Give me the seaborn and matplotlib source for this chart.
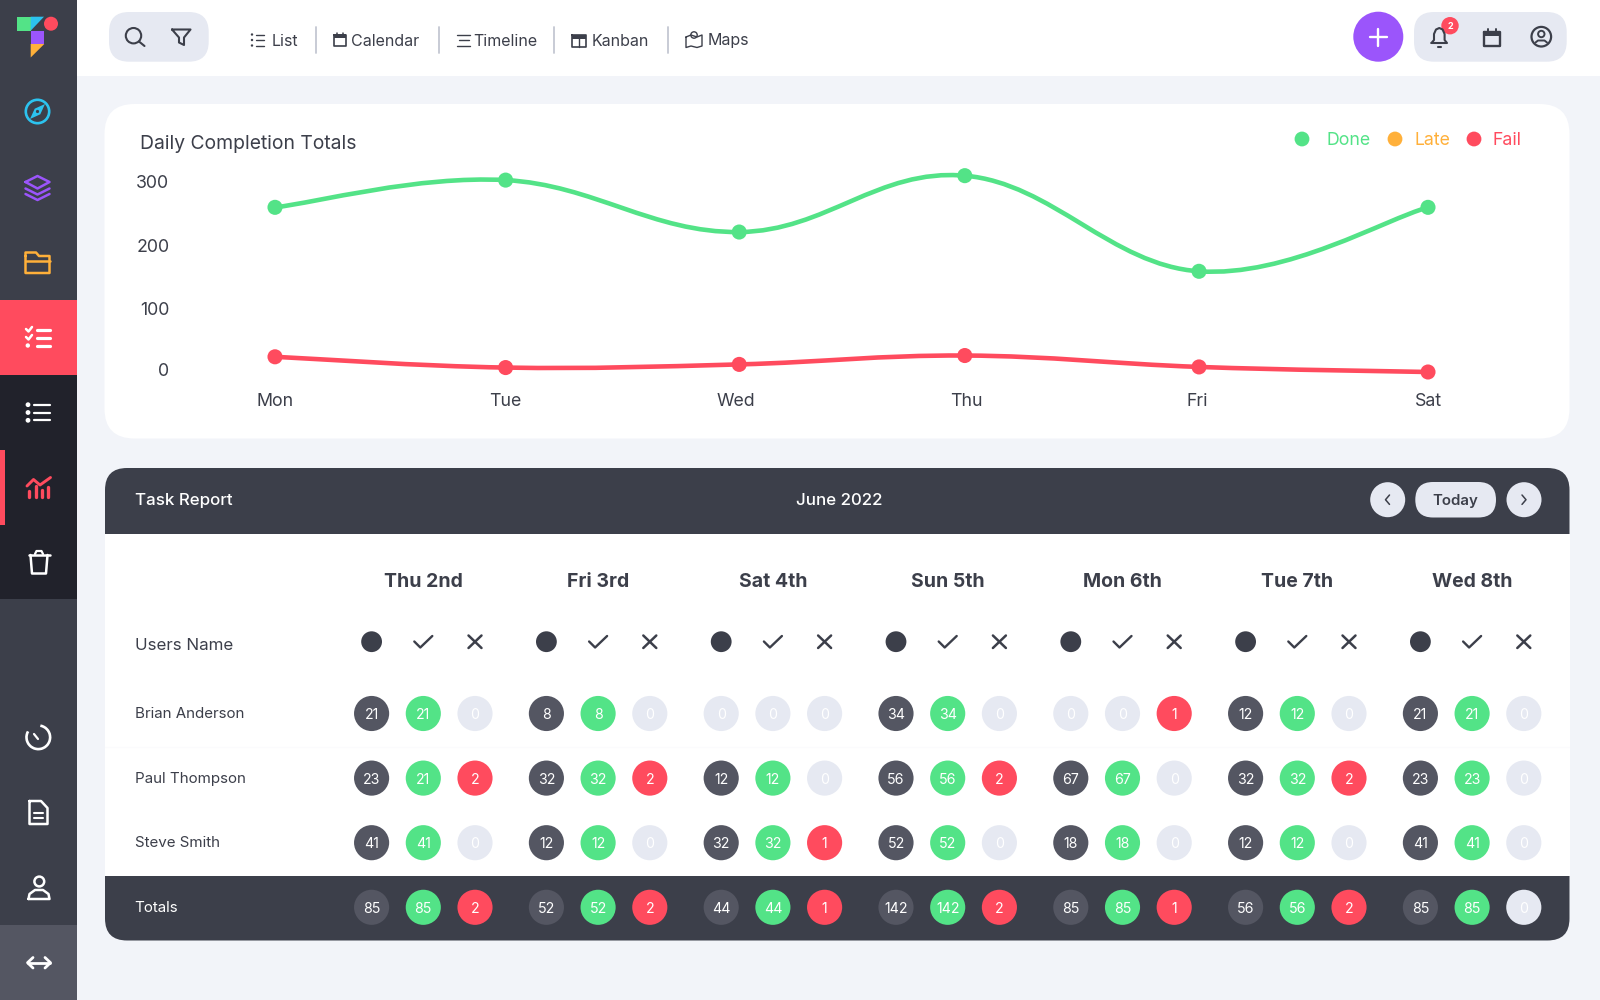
import matplotlib
matplotlib.use("Agg")
import matplotlib.pyplot as plt
from matplotlib.patches import Circle, FancyBboxPatch, PathPatch, Polygon, Rectangle, Arc
from matplotlib.path import Path
from matplotlib.transforms import Affine2D
import seaborn as sns
import pandas as pd

# Chart data
week_days = ["Mon", "Tue", "Wed", "Thu", "Fri", "Sat"]
done_totals = [260, 303, 221, 310, 159, 260]
fail_totals = [24, 7, 12, 26, 8, 0]
y_ticks = [0, 100, 200, 300]

# Table data
report_days = ["Thu 2nd", "Fri 3rd", "Sat 4th", "Sun 5th", "Mon 6th", "Tue 7th", "Wed 8th"]
user_names = ["Brian Anderson", "Paul Thompson", "Steve Smith", "Totals"]
brian_all = [21, 8, 0, 34, 0, 12, 21]
brian_done = [21, 8, 0, 34, 0, 12, 21]
brian_fail = [0, 0, 0, 0, 1, 0, 0]
paul_all = [23, 32, 12, 56, 67, 32, 23]
paul_done = [21, 32, 12, 56, 67, 32, 23]
paul_fail = [2, 2, 0, 2, 0, 2, 0]
steve_all = [41, 12, 32, 52, 18, 12, 41]
steve_done = [41, 12, 32, 52, 18, 12, 41]
steve_fail = [0, 0, 1, 0, 0, 0, 0]
total_all = [85, 52, 44, 142, 85, 56, 85]
total_done = [85, 52, 44, 142, 85, 56, 85]
total_fail = [2, 2, 1, 2, 1, 2, 0]

DARK = "#3c3f4a"
SLATE = "#545662"
GREEN = "#53e387"
RED = "#ff4b5e"
ORANGE = "#ffb03a"
PURPLE = "#9b55fb"
CYAN = "#2cc3ef"
PILL = "#e6e9f2"
BG = "#f2f4f9"
NIGHT = "#21222b"
FONT = "Inter"

sns.set_theme(style="white")
plt.rcParams["font.family"] = [FONT, "DejaVu Sans"]

fig = plt.figure(figsize=(16, 10), dpi=100, facecolor=BG)

# Background axes in pixels, everything that is not data goes here
ui = fig.add_axes([0, 0, 1, 1], zorder=0)
ui.set_xlim(0, 1600)
ui.set_ylim(1000, 0)
ui.axis("off")


def rect(x0, y0, x1, y1, color, **kw):
    ui.add_patch(Rectangle((x0, y0), x1 - x0, y1 - y0, fc=color, ec="none", **kw))


def rrect(x0, y0, x1, y1, r, color):
    ui.add_patch(FancyBboxPatch((x0 + r, y0 + r), x1 - x0 - 2 * r, y1 - y0 - 2 * r,
                                boxstyle=f"round,pad={r},rounding_size={r}", fc=color, ec="none"))


def line(pts, color, lw=1.6, closed=False):
    xs = [p[0] for p in pts]
    ys = [p[1] for p in pts]
    if closed:
        xs.append(xs[0])
        ys.append(ys[0])
    ui.plot(xs, ys, color=color, lw=lw, solid_capstyle="round", solid_joinstyle="round")


def ring(x, y, r, color, lw=1.6):
    ui.add_patch(Circle((x, y), r, fc="none", ec=color, lw=lw))


def dot(x, y, r, color):
    ui.add_patch(Circle((x, y), r, fc=color, ec="none"))


def label(x, y, s, size=11, color=DARK, ha="left", weight="normal"):
    ui.text(x, y, s, fontsize=size, color=color, ha=ha, va="center_baseline", fontweight=weight)


# Sidebar blocks
rect(0, 0, 77, 1000, DARK)
rect(0, 300, 77, 375, RED)
rect(0, 375, 77, 599, NIGHT)
rect(0, 450, 5, 525, RED)
rect(0, 925, 77, 1000, SLATE)
rect(77, 0, 1600, 76, "white")

# Logo
rect(17, 16.7, 30.7, 30.7, GREEN)
ui.add_patch(Polygon([(30.7, 16.7), (44, 16.7), (30.7, 30.7)], fc=CYAN, ec="none"))
dot(51, 23.7, 7, RED)
rect(30.7, 30.7, 44.3, 44, PURPLE)
ui.add_patch(Polygon([(30.7, 44), (44.3, 44), (30.7, 57.5)], fc=ORANGE, ec="none"))

# Sidebar icons
ring(37.5, 111.5, 11.7, CYAN, 1.9)
ui.add_patch(Polygon([(45, 104), (40.3, 114.3), (30, 119), (34.7, 108.7)], fc=CYAN, ec="none"))
dot(37.5, 111.5, 1.6, DARK)

line([(25.5, 182), (37.5, 176), (49.5, 182), (37.5, 188.5)], PURPLE, 1.8, closed=True)
line([(25.5, 188.5), (37.5, 194.5), (49.5, 188.5)], PURPLE, 1.8)
line([(25.5, 194), (37.5, 200), (49.5, 194)], PURPLE, 1.8)

line([(25.5, 256), (25.5, 252.5), (36, 252.5), (39, 256), (49.5, 256), (49.5, 273), (25.5, 273)], ORANGE, 1.8, closed=True)
line([(25.5, 260.5), (49.5, 260.5)], ORANGE, 1.8)

for y in (329.5, 337.5, 345.5):
    line([(37, y), (49.5, y)], "white", 2.3)
line([(26, 329), (28.5, 331.5), (32, 327)], "white", 1.8)
line([(26, 337), (28.5, 339.5), (32, 335)], "white", 1.8)
dot(27.8, 345.5, 2.2, "white")

for y in (404.7, 412.5, 420.3):
    dot(28, y, 2.4, "white")
    line([(34, y), (49.5, y)], "white", 1.6)

line([(27, 486), (33.5, 479.5), (40, 485), (50.5, 477.5)], RED, 2.1)
for x, top in ((29, 491), (35.5, 486), (42, 490), (48, 487)):
    line([(x, top), (x, 497)], RED, 2.4)

line([(29, 555), (49.5, 555)], "white", 1.8)
line([(30.5, 555), (32, 573.5), (46, 573.5), (47.5, 555)], "white", 1.8)
line([(35, 554), (36.5, 551), (41.5, 551), (43, 554)], "white", 1.6)

ui.add_patch(Arc((38.3, 737.3), 23.6, 23.6, angle=0, theta1=-80, theta2=210, ec="white", lw=1.9))
line([(34, 734), (38, 739)], "white", 1.6)

line([(29.5, 801), (41, 801), (47.5, 808), (47.5, 824), (29.5, 824)], "white", 1.8, closed=True)
line([(34, 812.5), (43, 812.5)], "white", 1.5)
line([(34, 817.5), (43, 817.5)], "white", 1.5)

ring(39.3, 881.5, 4.9, "white", 1.8)
line([(28.5, 899), (49.5, 899), (48.5, 894), (43, 890), (35, 890), (29.5, 894)], "white", 1.8, closed=True)

line([(28, 962.7), (50, 962.7)], "white", 2.0)
line([(33, 957.5), (27.5, 962.7), (33, 968)], "white", 2.0)
line([(45, 957.5), (50.5, 962.7), (45, 968)], "white", 2.0)

# Top bar, left
rrect(109, 12, 208.7, 61.7, 20, PILL)
ring(133.5, 35.7, 7.7, DARK, 1.5)
line([(139, 41.5), (144.5, 46)], DARK, 1.5)
line([(172, 29.5), (190.5, 29.5), (184, 37.5), (184, 45), (179, 42.5), (179, 37.5)], DARK, 1.5, closed=True)

nav_items = [("List", 271.5), ("Calendar", 351.5), ("Timeline", 473.5), ("Kanban", 591.5), ("Maps", 708)]
for name, x in nav_items:
    label(x, 39.5, name, 11.5)
for x in (316, 439, 554, 667.7):
    line([(x, 27), (x, 53)], "#c4c7d2", 1.3)

for y in (34.5, 40, 45.5):
    dot(252, y, 1.2, DARK)
    line([(255.5, y), (263.5, y)], DARK, 1.0)
line([(334, 35), (346, 35), (346, 46), (334, 46)], DARK, 1.2, closed=True)
rect(334, 34, 346, 37.5, DARK)
line([(337, 33), (337, 35)], DARK, 1.1)
line([(343, 33), (343, 35)], DARK, 1.1)
line([(457, 34.5), (470, 34.5)], DARK, 1.0)
line([(459, 40), (469, 40)], DARK, 1.0)
line([(457, 45.5), (470, 45.5)], DARK, 1.0)
line([(572, 35), (586, 35), (586, 47), (572, 47)], DARK, 1.2, closed=True)
rect(572, 35, 586, 38.5, DARK)
line([(579, 36), (579, 47)], DARK, 1.0)
line([(686, 37), (691, 35), (697, 37), (702, 35), (702, 46), (697, 47.5), (691, 46), (686, 47.5)], DARK, 1.0, closed=True)
dot(694, 35, 3.2, "white")
ring(694, 35, 3.2, DARK, 1.0)

# Top bar, right
dot(1378.3, 36.7, 25, PURPLE)
line([(1370, 37), (1386.5, 37)], "white", 1.7)
line([(1378.3, 29), (1378.3, 45.5)], "white", 1.7)
rrect(1414, 12, 1566.7, 61.7, 20, PILL)
line([(1431.5, 43), (1434, 40), (1434, 34), (1436, 29.5), (1439.3, 28), (1442.6, 29.5), (1444.6, 34), (1444.6, 40), (1447, 43)],
     DARK, 1.5, closed=True)
line([(1438, 46.5), (1441, 46.5)], DARK, 1.5)
dot(1450, 25.7, 8.7, RED)
label(1450, 25.7, "2", 6.5, "white", ha="center", weight="bold")
line([(1484, 32), (1499.5, 32), (1499.5, 46), (1484, 46)], DARK, 1.7, closed=True)
rect(1484, 31, 1499.5, 36, DARK)
line([(1488, 28.5), (1488, 31)], DARK, 1.4)
line([(1495.5, 28.5), (1495.5, 31)], DARK, 1.4)
ring(1541.3, 36.7, 9.8, DARK, 1.6)
ring(1541.3, 34, 3.2, DARK, 1.4)
line([(1535.5, 42.5), (1538, 40.5), (1544.5, 40.5), (1547, 42.5)], DARK, 1.4)

# Panels
rrect(104.5, 104, 1569.5, 438.5, 30, "white")
rrect(105, 468, 1569.5, 940.5, 22, DARK)
rect(105, 533.5, 1569.5, 876, "white")
line([(105, 747), (1569, 747)], "#fbfbfd", 0.8)

# Chart heading and legend
label(140, 142, "Daily Completion Totals", 13.9)
for x, text_x, name, color in ((1302, 1327, "Done", GREEN), (1395, 1414, "Late", ORANGE), (1474, 1492, "Fail", RED)):
    dot(x, 139, 7.4, color)
    label(text_x, 138.5, name, 12.8, color)

# Line chart, placed so that its data lands on the panel
px_left, px_right = 245, 1458
px_top, px_bottom = 160, 388
per_day = (1428 - 275) / 5
per_unit = (372 - 182) / 300
chart = fig.add_axes([px_left / 1600, 1 - px_bottom / 1000, (px_right - px_left) / 1600, (px_bottom - px_top) / 1000],
                     zorder=1, facecolor="none")


def smooth_path(xs, ys, k=0.19):
    # cubic segments through the points, tangents from the neighbours
    verts = [(xs[0], ys[0])]
    codes = [Path.MOVETO]
    n = len(xs)
    for i in range(n - 1):
        prev_i, next_i = max(i - 1, 0), min(i + 2, n - 1)
        verts.append((xs[i] + (xs[i + 1] - xs[prev_i]) * k, ys[i] + (ys[i + 1] - ys[prev_i]) * k))
        verts.append((xs[i + 1] - (xs[next_i] - xs[i]) * k, ys[i + 1] - (ys[next_i] - ys[i]) * k))
        verts.append((xs[i + 1], ys[i + 1]))
        codes += [Path.CURVE4] * 3
    return Path(verts, codes)


# the points in the reference are not quite evenly spaced
day_nudge_px = [0, 0, 3, -2, 1.6, 0]
positions = list(range(len(week_days)))
marks = [p + n / per_day for p, n in zip(positions, day_nudge_px)]
for values, color in ((done_totals, GREEN), (fail_totals, RED)):
    chart.add_patch(PathPatch(smooth_path(marks, values), fc="none", ec=color, lw=3.3))

chart_df = pd.DataFrame({
    "day": marks * 2,
    "value": done_totals + fail_totals,
    "kind": ["Done"] * len(done_totals) + ["Fail"] * len(fail_totals),
})
sns.scatterplot(data=chart_df, x="day", y="value", hue="kind", palette={"Done": GREEN, "Fail": RED},
                s=118, linewidth=0, legend=False, ax=chart, zorder=3)

chart.set_xlim((px_left - 275) / per_day, (px_right - 275) / per_day)
chart.set_ylim((372 - px_bottom) / per_unit, (372 - px_top) / per_unit)
chart.set_xticks(positions, week_days)
chart.set_yticks(y_ticks, [str(v) for v in y_ticks])
chart.tick_params(axis="x", length=0, pad=3.6, labelsize=12.8, labelcolor=DARK)
chart.tick_params(axis="y", length=0, pad=54.5, labelsize=12.8, labelcolor=DARK)
chart.set_xlabel("")
chart.set_ylabel("")
sns.despine(ax=chart, left=True, bottom=True)
# the 0 label sits a little above its tick in the reference
zero_label = chart.get_yticklabels()[0]
zero_label.set_transform(zero_label.get_transform() + Affine2D().translate(0, 2))

# Table header
label(135, 499, "Task Report", 12.2, "white", weight="medium")
label(839, 499, "June 2022", 12.2, "white", ha="center", weight="medium")
dot(1387.7, 499.7, 17.5, PILL)
dot(1524, 499.7, 17.5, PILL)
rrect(1415.3, 482, 1496, 517.5, 17.7, PILL)
label(1455.7, 500, "Today", 10.8, DARK, ha="center", weight="semibold")
line([(1389.5, 495), (1385.5, 499.7), (1389.5, 504.4)], DARK, 1.1)
line([(1522, 495), (1526, 499.7), (1522, 504.4)], DARK, 1.1)
label(135, 644, "Users Name", 12.2)
for y, name, x in zip((713, 778, 842, 907), user_names, (135, 135, 135, 134)):
    label(x, y - 0.5, name, 10.9, "white" if name == "Totals" else DARK)

# Table cells
day_first, day_step = 423.3, 174.8
row_first, row_step = 713.5, 64.6
sub_step = 51.7 / day_step
tx0, tx1, ty0, ty1 = 105, 1569, 540, 945
table = fig.add_axes([tx0 / 1600, 1 - ty1 / 1000, (tx1 - tx0) / 1600, (ty1 - ty0) / 1000], zorder=1, facecolor="none")

rows = [(brian_all, brian_done, brian_fail), (paul_all, paul_done, paul_fail),
        (steve_all, steve_done, steve_fail), (total_all, total_done, total_fail)]
records = []
for r, group in enumerate(rows):
    for c, (values, kind) in enumerate(zip(group, ("all", "done", "fail"))):
        for d, value in enumerate(values):
            records.append({"x": d + (c - 1) * sub_step, "row": r, "value": value, "state": kind if value else "zero"})
cells = pd.DataFrame(records)

sns.scatterplot(data=cells, x="x", y="row", hue="state", s=640, linewidth=0, legend=False, ax=table,
                palette={"all": SLATE, "done": GREEN, "fail": RED, "zero": PILL})
for cell in cells.itertuples():
    table.text(cell.x, cell.row, str(cell.value), color="white", fontsize=10.2, ha="center", va="center_baseline")

for d, name in enumerate(report_days):
    table.text(d, (580 - row_first) / row_step, name, color=DARK, fontsize=14, fontweight="bold",
               ha="center", va="center_baseline")

# Column symbols above the cells
for d in range(len(report_days)):
    cx = day_first + d * day_step
    dot(cx - 51.7, 641.7, 10.4, DARK)
    line([(cx - 9, 641.5), (cx - 3, 647.5), (cx + 9, 636)], DARK, 1.7)
    line([(cx + 45.2, 635.5), (cx + 58.2, 648)], DARK, 1.8)
    line([(cx + 45.2, 648), (cx + 58.2, 635.5)], DARK, 1.8)

table.set_xlim((tx0 - day_first) / day_step, (tx1 - day_first) / day_step)
table.set_ylim((ty1 - row_first) / row_step, (ty0 - row_first) / row_step)
table.axis("off")

fig.savefig("out.png", dpi=100, facecolor=BG)
